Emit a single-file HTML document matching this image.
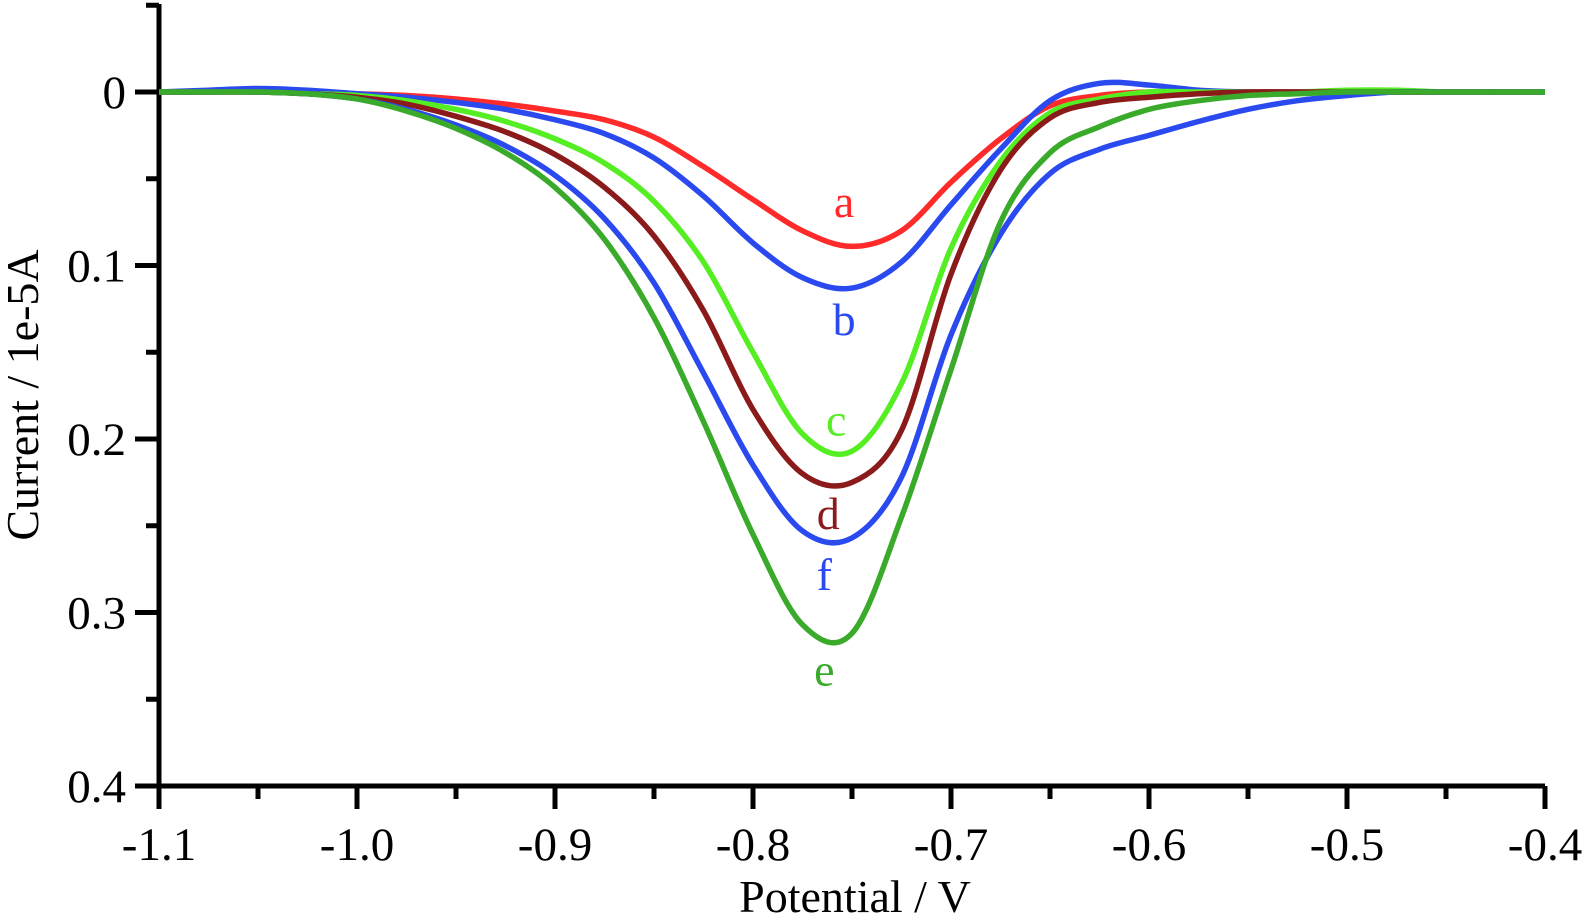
<!DOCTYPE html>
<html><head><meta charset="utf-8"><style>
html,body{margin:0;padding:0;background:#fff;}
svg{display:block;}
text{font-family:"Liberation Serif",serif;}
</style></head><body>
<svg id="chart" width="1582" height="919"></svg>
<script>
const xs = [-1.1,-1.075,-1.05,-1.025,-1.0,-0.975,-0.95,-0.925,-0.9,-0.875,-0.85,-0.825,-0.8,-0.775,-0.75,-0.725,-0.7,-0.675,-0.65,-0.625,-0.6,-0.575,-0.55,-0.525,-0.5,-0.475,-0.45,-0.425,-0.4];
const seriesA = [0,0,0,0,0.001,0.002,0.004,0.007,0.011,0.016,0.026,0.043,0.062,0.08,0.089,0.08,0.052,0.027,0.008,0.002,0,0,0,0,0,0,0,0,0];
const seriesB = [0,-0.001,-0.002,-0.001,0.001,0.003,0.006,0.01,0.016,0.024,0.038,0.06,0.087,0.107,0.113,0.098,0.065,0.033,0.005,-0.005,-0.004,-0.001,0,0,0,0,0,0,0];
const seriesC = [0,0,0,0.001,0.002,0.005,0.01,0.017,0.027,0.041,0.063,0.098,0.15,0.197,0.207,0.168,0.09,0.04,0.012,0.004,0,0,0,0,-0.001,-0.001,0,0,0];
const seriesD = [0,0,0,0.001,0.003,0.007,0.014,0.023,0.036,0.055,0.083,0.126,0.183,0.22,0.225,0.195,0.105,0.045,0.015,0.006,0.003,0.001,0,0,0,0,0,0,0];
const seriesF = [0,0,0,0.001,0.004,0.01,0.019,0.031,0.048,0.073,0.11,0.162,0.215,0.253,0.257,0.222,0.14,0.082,0.047,0.033,0.025,0.017,0.01,0.005,0.002,0,0,0,0];
const seriesE = [0,0,0,0.001,0.004,0.011,0.021,0.035,0.055,0.085,0.13,0.19,0.255,0.307,0.312,0.245,0.16,0.075,0.035,0.02,0.01,0.005,0.002,0.001,0,0,0,0,0];
const seriesNames = ['a','b','c','d','f','e'];
const seriesColors = ['#ff2a2a','#2a4af0','#55ee22','#8b1a1a','#2a4af0','#3aaa2a'];
const seriesData = [seriesA,seriesB,seriesC,seriesD,seriesF,seriesE];
const labelPos = [[-0.754,0.072],[-0.754,0.14],[-0.758,0.198],[-0.762,0.252],[-0.764,0.287],[-0.764,0.342]];
const xTicks = [-1.1,-1.0,-0.9,-0.8,-0.7,-0.6,-0.5,-0.4];
const xTickLabels = ['-1.1','-1.0','-0.9','-0.8','-0.7','-0.6','-0.5','-0.4'];
const yTicks = [0,0.1,0.2,0.3,0.4];
const yTickLabels = ['0','0.1','0.2','0.3','0.4'];

const NS='http://www.w3.org/2000/svg';
const svg=document.getElementById('chart');
const X0=159,X1=1545,Y0=92,Y4=786;
const sx=v=>X0+(v+1.1)/0.7*(X1-X0);
const sy=v=>Y0+v/0.4*(Y4-Y0);
function mk(tag,attrs){const e=document.createElementNS(NS,tag);for(const k in attrs)e.setAttribute(k,attrs[k]);svg.appendChild(e);return e;}

let ax=mk('path',{d:`M${X0},4 L${X0},${Y4} L${X1},${Y4}`,fill:'none',stroke:'#000','stroke-width':5});


for(let i=0;i<=14;i++){
  const v=-1.1+i*0.05;
  const major=i%2===0;
  const t=mk('line',{x1:sx(v),x2:sx(v),y1:Y4,y2:Y4+(major?23:13),stroke:'#000','stroke-width':5});
  
  
}
for(let i=-1;i<=8;i++){
  const v=i*0.05;
  const major=(i+2)%2===0;
  const t=mk('line',{x1:X0,x2:X0-(major?24:13),y1:sy(v),y2:sy(v),stroke:'#000','stroke-width':5});
  
  
}
xTicks.forEach((v,i)=>{
  const t=mk('text',{x:sx(v),y:860,'text-anchor':'middle','font-size':47});
  t.textContent=xTickLabels[i];
  
  
});
yTicks.forEach((v,i)=>{
  const t=mk('text',{x:126,y:sy(v)+16,'text-anchor':'end','font-size':47});
  t.textContent=yTickLabels[i];
  
  
});
let xt=mk('text',{x:855,y:912,'text-anchor':'middle','font-size':46});
xt.textContent='Potential / V';


let yt=mk('text',{x:0,y:0,'text-anchor':'middle','font-size':46,transform:'translate(38,395) rotate(-90)'});
yt.textContent='Current / 1e-5A';



function curve(vals){
  const p=xs.map((x,i)=>[sx(x),sy(vals[i])]);
  let d=`M${p[0][0]},${p[0][1]}`;
  for(let i=0;i<p.length-1;i++){
    const p0=p[i-1]||p[i],p1=p[i],p2=p[i+1],p3=p[i+2]||p[i+1];
    const c1=[p1[0]+(p2[0]-p0[0])/6,p1[1]+(p2[1]-p0[1])/6];
    const c2=[p2[0]-(p3[0]-p1[0])/6,p2[1]-(p3[1]-p1[1])/6];
    d+=` C${c1[0]},${c1[1]} ${c2[0]},${c2[1]} ${p2[0]},${p2[1]}`;
  }
  return d;
}
seriesData.forEach((vals,i)=>{
  const l=mk('path',{d:curve(vals),fill:'none',stroke:seriesColors[i],'stroke-width':5.5,'stroke-linejoin':'round'});
  
  
  const t=mk('text',{x:sx(labelPos[i][0]),y:sy(labelPos[i][1]),'text-anchor':'middle','font-size':46,fill:seriesColors[i]});
  t.textContent=seriesNames[i];
  
  
});
</script>
</body></html>
